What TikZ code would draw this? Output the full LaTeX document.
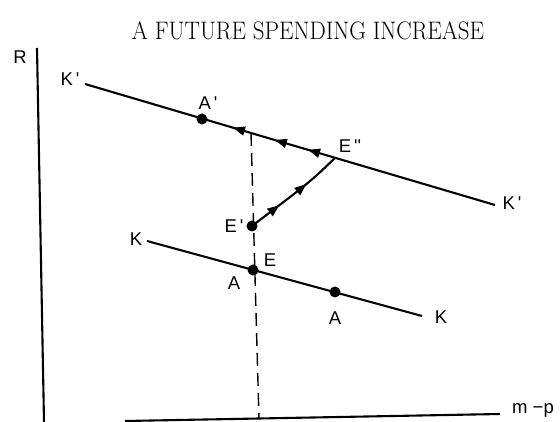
\documentclass[tikz,border=0pt]{standalone}
\usepackage{fontspec}
\newfontfamily\labfont[Ligatures=TeXOff]{Liberation Sans}
\usetikzlibrary{arrows.meta,decorations.markings}
\tikzset{
  curve/.style={line width=2.1pt},
  axisline/.style={line width=2.1pt},
  guide/.style={line width=1.4pt, dash pattern=on 13pt off 7pt},
  dot/.style={circle, fill=black, inner sep=0pt, minimum size=11pt},
  lab/.style={font=\labfont\fontsize{18.5}{20}\selectfont, inner sep=0pt},
  leftarrows/.style={postaction={decorate, decoration={markings,
      mark=at position 0.361 with {\arrowreversed{Triangle[length=12pt,width=9pt]}},
      mark=at position 0.463 with {\arrowreversed{Triangle[length=12pt,width=9pt]}},
      mark=at position 0.544 with {\arrowreversed{Triangle[length=12pt,width=9pt]}}}}},
  uparrows/.style={postaction={decorate, decoration={markings,
      mark=at position 0.32 with {\arrow{Triangle[length=12pt,width=9pt]}},
      mark=at position 0.64 with {\arrow{Triangle[length=12pt,width=9pt]}}}}}
}
\begin{document}
\begin{tikzpicture}[x=1pt,y=-1pt]
\useasboundingbox (0,0) rectangle (560,422);
% title
\node[inner sep=0pt] (title) at (308,31) {\fontsize{23}{27}\selectfont\scalebox{1}[1.1]{A FUTURE SPENDING INCREASE}};
% axes
\coordinate (vtop) at (37,48);
\coordinate (vbot) at (44,422);
\coordinate (hl) at (125,421);
\coordinate (hr) at (500,414);
\draw[axisline] (vtop) -- (vbot);
\draw[axisline] (hl) -- (hr);
\node[lab] (R) at (20,57) {R};
\node[lab] (mp) at (533,410) {m −p};
% K' line
\coordinate (Kpl) at (85,84);
\coordinate (Kpr) at (495,205);
\draw[curve, leftarrows] (Kpl) -- (Kpr);
\node[lab] (KpL) at (70,79) {K\,'};
\node[lab] (KpR) at (512,203) {K\,'};
% K line
\coordinate (Kl) at (147,241);
\coordinate (Kr) at (422,316);
\draw[curve] (Kl) -- (Kr);
\node[lab] (KL) at (136,239) {K};
\node[lab] (KR) at (441,317) {K};
% dashed guide
\coordinate (dtop) at (251,133);
\coordinate (dbot) at (259,419);
\draw[guide] (dtop) -- (dbot);
% points
\node[dot] (Ap) at (202,119) {};
\node[lab] (Aplab) at (208,103) {A\,'};
\coordinate (Epp) at (335,158);
\node[lab] (Epplab) at (350,146) {E\,''};
\node[dot] (Ep) at (252,226) {};
\node[lab] (Eplab) at (234,226) {E\,'};
\node[dot] (E) at (253,270) {};
\node[lab] (Elab) at (270,260) {E};
\node[lab] (Alab1) at (234,283) {A};
\node[dot] (A) at (335,292) {};
\node[lab] (Alab2) at (335,318) {A};
% adjustment path
\draw[curve, uparrows] (Ep.center) .. controls (310,182) .. (Epp);
\end{tikzpicture}
\end{document}
